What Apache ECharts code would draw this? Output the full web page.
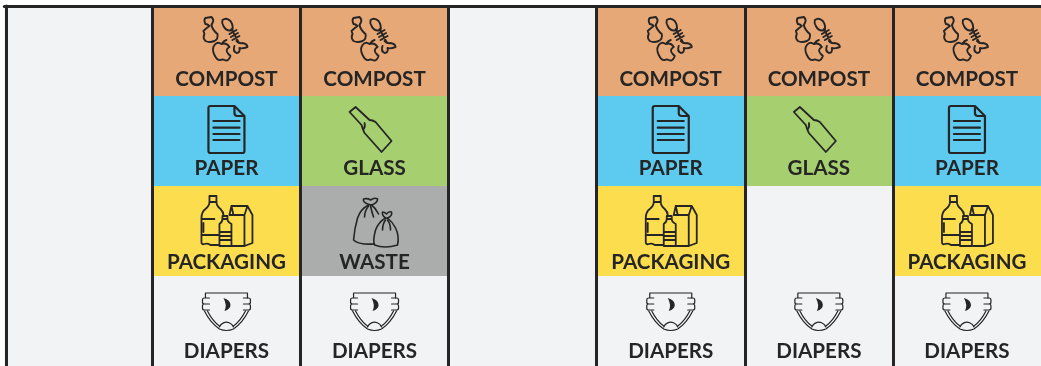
<!DOCTYPE html>
<html>
<head>
<meta charset="utf-8">
<style>html,body{margin:0;padding:0;background:#fff;overflow:hidden}#c{width:1041px;height:366px}</style>
<script src="https://cdn.jsdelivr.net/npm/echarts@6/dist/echarts.min.js"></script>
</head>
<body>
<div id="c"></div>
<script>
const days = ['Mon','Tue','Wed','Thu','Fri','Sat','Sun'];
const slots = ['Slot 1','Slot 2','Slot 3','Slot 4'];
const wasteNames = ['COMPOST','PAPER','GLASS','PACKAGING','WASTE','DIAPERS'];
const monday = ['','','',''];
const tuesday = ['COMPOST','PAPER','PACKAGING','DIAPERS'];
const wednesday = ['COMPOST','GLASS','WASTE','DIAPERS'];
const thursday = ['','','',''];
const friday = ['COMPOST','PAPER','PACKAGING','DIAPERS'];
const saturday = ['COMPOST','GLASS','','DIAPERS'];
const sunday = ['COMPOST','PAPER','PACKAGING','DIAPERS'];
const week = [monday,tuesday,wednesday,thursday,friday,saturday,sunday];

const INK = '#262526';
const BOX = 'M0 0M100 90';
const styles = {
  COMPOST: {color:'#E6A877', labelY:73, stroke:1.9, icon:[
    'M29 12L35 11Q38 14 36 17L35 19Q36 24 41 28Q42 33 38 35Q33 37 29 35Q26 32 28 28L27 25Q30 22 33 20Q31 18 29 18Q27 14 29 12Z',
    'M46 14Q50 11 54 15Q57 19 56 24Q50 26 47 20Q45 17 46 14Z',
    'M55 23L62 36M53 28L60 24M54.5 31L61.5 27M56 34L63 30',
    'M60 35Q63 38 66 37Q71 38 71 41Q66 43 63 42Q64 47 60 47Q56 45 58 40',
    'M45 38Q41 35 38 39Q35 43 38 49Q41 55 44 54Q46 53 48 54Q52 56 54 50L52 48Q48 44 53 41Q50 36 45 38ZM46 37Q47 35 50 34'
  ]},
  PAPER: {color:'#5DCBF0', labelY:72, stroke:2.2, icon:[
    'M58 10L34 10Q32 10 32 12L32 55Q32 57 34 57L66 57Q68 57 68 55L68 20ZM58 10L58 17Q58 20 61 20L68 20',
    'M37 25H63M37 31.7H63M37 38H63M37 44H63'
  ]},
  GLASS: {color:'#A6CF70', labelY:72, stroke:1.8, icon:[
    'M25 16L31 11L45 24Q48 24 51 26L67 45L57 56L40 37Q38 33 37 29Z',
    'M40 27Q41 31 39 33'
  ]},
  PACKAGING: {color:'#FBDD4E', labelY:76, stroke:1.8, icon:[
    'M33 10H40V16H33ZM33 16Q33 20 29 23Q25 26 25 32V56Q25 59 28 58Q31 57 34 59H42M40 16Q40 20 44 23Q47 26 47 29M25 33H38M25 49H42M27 37V46',
    'M46 30H51V33H46ZM46 33Q46 36 43 38V60H55V38Q51 36 51 33M43 46H55M43 50H55M43 54H55',
    'M53 29L55 20H71L76 29V57L68 60H56M71 20L68 29V60M53 29H68M55 20L57 29'
  ]},
  WASTE: {color:'#ABADAC', labelY:76, stroke:1.6, icon:[
    'M44 19Q36 23 33 32Q30 42 29 54Q34 59 50 58M47 19Q51 22 54 28',
    'M43 18Q38 16 39 13Q43 12 46 14Q50 11 53 13Q53 17 47 19ZM44 20Q40 25 40 31M46 20Q47 25 49 31',
    'M61 32Q54 36 51 44Q48 55 50 59Q60 63 73 59Q75 50 71 42Q68 36 63 32',
    'M61 32Q57 29 58 26Q60 26 62 28Q64 25 67 26Q68 30 63 32ZM61 34Q58 38 58 44M63 34Q66 38 66 44'
  ]},
  DIAPERS: {color:'#F1F3F5', labelY:75, stroke:1.2, icon:[
    'M29 22V17H71V22M33 22H28Q26 22 26 24V26Q26 28 28 28H33M33 28H28Q26 28 26 30V32Q26 34 28 34H33',
    'M67 22H72Q74 22 74 24V26Q74 28 72 28H67M67 28H72Q74 28 74 30V32Q74 34 72 34H67',
    'M28 35Q34 47 43 53Q50 56 57 53Q66 47 72 35M31 35Q36 45 43 50M69 35Q64 45 57 50M43 51A7.5 7.5 0 0 1 57 51'
  ], solid:['M47 22Q54 24 54 29Q54 33 48 35Q51 29 47 22Z']}
};

const cells = [];
week.forEach((day,d)=>day.forEach((name,s)=>{ if(name) cells.push([d,s,wasteNames.indexOf(name)]); }));

function renderCell(params, api){
  const c = api.coord([api.value(0), api.value(1)]);
  const size = api.size([1,1]);
  const name = wasteNames[api.value(2)];
  const st = styles[name];
  const x0 = c[0]-size[0]/2, y0 = c[1]-size[1]/2;
  const rect = {x:c[0]-50, y:y0, width:100, height:90};
  const children = [{type:'rect', shape:{x:x0,y:y0,width:size[0],height:size[1]}, style:{fill:st.color}}];
  st.icon.forEach(d=>children.push({type:'path', shape:Object.assign({pathData:BOX+d, layout:'cover'},rect),
    style:{fill:'none',stroke:INK,lineWidth:st.stroke,lineJoin:'round',lineCap:'round'}}));
  (st.solid||[]).forEach(d=>children.push({type:'path', shape:Object.assign({pathData:BOX+d, layout:'cover'},rect),
    style:{fill:INK,stroke:'none'}}));
  children.push({type:'text', style:{text:name, x:c[0], y:y0+st.labelY, align:'center', verticalAlign:'middle',
    fill:INK, font:'700 20.6px Lato'}});
  return {type:'group', children};
}

const chart = echarts.init(document.getElementById('c'), null, {renderer:'canvas'});
chart.setOption({
  animation:false,
  backgroundColor:'#ffffff',
  grid:{left:4.3,top:6,width:1037,height:360,show:true,backgroundColor:'#F1F3F5',borderWidth:0},
  xAxis:{type:'category',data:days,position:'top',z:5,
    axisLine:{show:true,lineStyle:{color:INK,width:3}},axisTick:{show:false},axisLabel:{show:false},
    splitLine:{show:true,showMinLine:false,showMaxLine:false,lineStyle:{color:INK,width:3}}},
  yAxis:{type:'category',data:slots,inverse:true,z:5,offset:-2,
    axisLine:{show:true,lineStyle:{color:INK,width:3}},axisTick:{show:false},axisLabel:{show:false},splitLine:{show:false}},
  series:[{type:'custom',coordinateSystem:'cartesian2d',data:cells,renderItem:renderCell,z:2,
    encode:{x:0,y:1},silent:true,clip:false}]
});
</script>
</body>
</html>
